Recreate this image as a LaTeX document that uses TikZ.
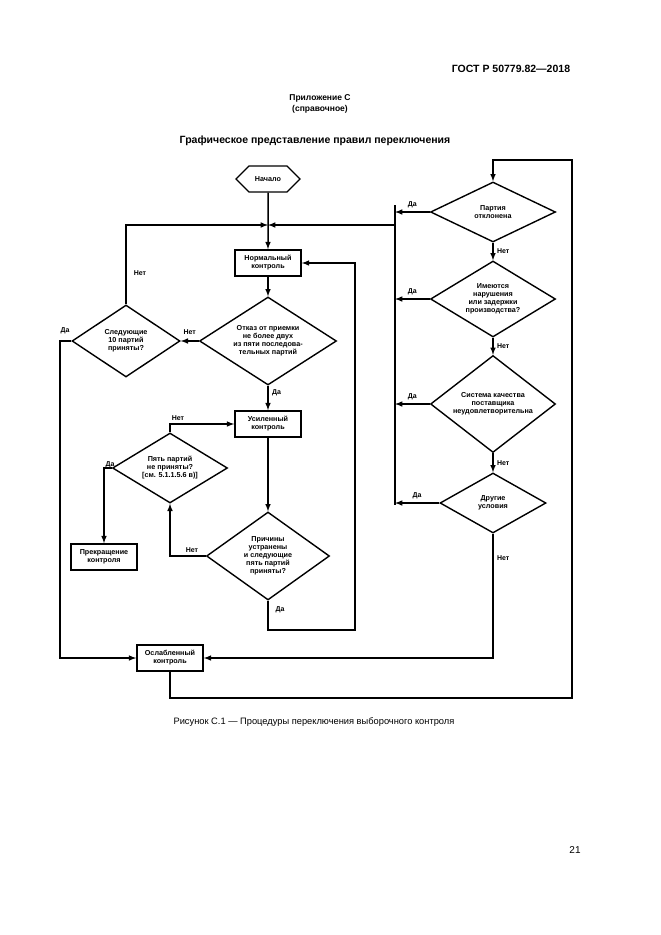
\documentclass[tikz,border=0pt]{standalone}
\usepackage{fontspec}
\setmainfont{Liberation Sans}
\usetikzlibrary{shapes.geometric,shapes.symbols,arrows,positioning}
\tikzset{
  box/.style={draw, line width=1.6pt, minimum width=66pt, minimum height=26pt, inner sep=1pt, align=center, font=\fontsize{7.2}{8}\selectfont\bfseries},
  decide/.style={draw, diamond, line width=1.4pt, inner sep=0pt, align=center, font=\fontsize{7.2}{8}\selectfont\bfseries},
  line/.style={line width=1.5pt, -latex},
  lbl/.style={font=\fontsize{7}{8}\selectfont\bfseries}
}
\begin{document}
\begin{tikzpicture}[x=1pt, y=-1pt]
\useasboundingbox (0,0) rectangle (661,935);
% header
\node[font=\fontsize{10.5}{12}\selectfont\bfseries] at (511,69) {ГОСТ Р 50779.82—2018};
\node[font=\fontsize{8.5}{10.5}\selectfont\bfseries, align=center] at (320,104) {Приложение С\\(справочное)};
\node[font=\fontsize{10.5}{12}\selectfont\bfseries] at (315,141) {Графическое представление правил переключения};

%Left part
\node[draw, signal, signal to=west and east, line width=1.4pt, minimum width=64pt, minimum height=26pt, inner sep=1pt, font=\fontsize{7.2}{8}\selectfont\bfseries] (start) at (268,179) {Начало};
\node[box] (normal) at (268,263) {Нормальный\\контроль};
\node[decide, minimum width=137pt, minimum height=88pt, aspect=1.56] (reject) at (268,341) {Отказ от приемки\\не более двух\\из пяти последова-\\тельных партий};
\node[decide, minimum width=108pt, minimum height=72pt, aspect=1.5] (next10) at (126,341) {Следующие\\10 партий\\приняты?};
\node[box] (tight) at (268,424) {Усиленный\\контроль};
\node[decide, minimum width=115pt, minimum height=70pt, aspect=1.64] (five) at (170,468) {Пять партий\\не приняты?\\{[}см. 5.1.1.5.6 в){]}};
\node[box] (stop) at (104,557) {Прекращение\\контроля};
\node[decide, minimum width=123pt, minimum height=88pt, aspect=1.4] (causes) at (268,556) {Причины\\устранены\\и следующие\\пять партий\\приняты?};
\node[box] (reduced) at (170,658) {Ослабленный\\контроль};

%Right column
\node[decide, minimum width=125pt, minimum height=60pt, aspect=2.1] (lotrej) at (493,212) {Партия\\отклонена};
\node[decide, minimum width=125pt, minimum height=76pt, aspect=1.65] (breaks) at (493,299) {Имеются\\нарушения\\или задержки\\производства?};
\node[decide, minimum width=125pt, minimum height=97pt, aspect=1.29] (qsys) at (493,404) {Система качества\\поставщика\\неудовлетворительна};
\node[decide, minimum width=106pt, minimum height=60pt, aspect=1.77] (other) at (493,503) {Другие\\условия};

\coordinate (join) at (268,225);
\coordinate (rightbus) at (395,225);

%Connectors
\draw[line] (start) -- (normal);
\draw[line] (rightbus) -- (join);
\draw[line] (next10.north) |- (join);
\draw[line] (normal) -- (reject);
\draw[line] (reject.west) -- (next10.east) node[lbl, pos=0.5, above=2pt] {Нет};
\draw[line] (reject) -- (tight) node[lbl, pos=0.3, right] {Да};
\node[lbl] at (140,273) {Нет};
\draw[line] (next10.west) -- (60,341) |- (reduced.west);
\node[lbl] at (65,331) {Да};
\draw[line] (five.north) |- (tight.west);
\node[lbl] at (178,418) {Нет};
\draw[line] (five.west) -- (104,468) -- (stop.north);
\node[lbl] at (110,465) {Да};
\draw[line] (tight) -- (causes);
\draw[line] (causes.west) -| (five.south);
\node[lbl] at (192,550) {Нет};
\draw[line] (causes.south) -- (268,630) -- (355,630) |- (normal.east);
\node[lbl] at (280,610) {Да};
\draw[line] (reduced.south) -- (170,698) -- (572,698) -- (572,160) -| (lotrej.north);
\draw[line] (lotrej) -- (breaks) node[lbl, pos=0.5, right] {Нет};
\draw[line] (breaks) -- (qsys) node[lbl, pos=0.5, right] {Нет};
\draw[line] (qsys) -- (other) node[lbl, pos=0.5, right] {Нет};
\draw[line] (other.south) |- (reduced.east) node[lbl, pos=0.1, right] {Нет};
\draw[line width=1.5pt] (395,205) -- (395,505);
\foreach \d in {lotrej, breaks, qsys, other}
  \draw[line] (\d.west) -- (\d.west -| rightbus) node[lbl, pos=0.5, above] {Да};

% caption
\node[font=\fontsize{9.3}{11}\selectfont] at (314,722) {Рисунок С.1 — Процедуры переключения выборочного контроля};
\node[font=\fontsize{10}{11}\selectfont] at (575,850) {21};
\end{tikzpicture}
\end{document}
